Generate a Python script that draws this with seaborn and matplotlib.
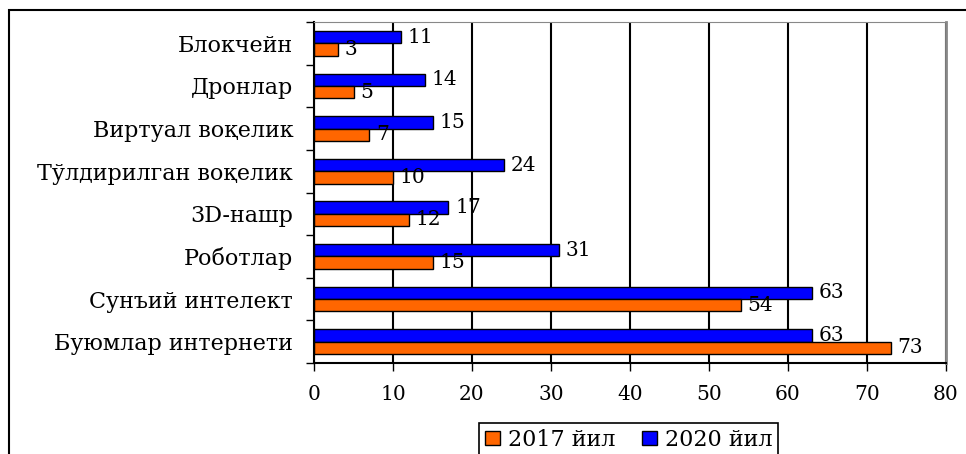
import matplotlib
matplotlib.use("Agg")
import matplotlib.pyplot as plt
import seaborn as sns
import pandas as pd
from matplotlib.patches import Rectangle, Patch
from matplotlib.ticker import FixedLocator

categories = ["Блокчейн", "Дронлар", "Виртуал воқелик", "Тўлдирилган воқелик",
              "3D-нашр", "Роботлар", "Сунъий интелект", "Буюмлар интернети"]
values_2017 = [3, 5, 7, 10, 12, 15, 54, 73]
values_2020 = [11, 14, 15, 24, 17, 31, 63, 63]
series = ["2017 йил", "2020 йил"]
colors = {"2017 йил": "#FF6600", "2020 йил": "#0000FF"}
x_ticks = [0, 10, 20, 30, 40, 50, 60, 70, 80]

sns.set_style("white")
plt.rcParams['font.family'] = ['DejaVu Serif', 'Liberation Serif']
plt.rcParams['text.color'] = 'black'
plt.rcParams['xtick.color'] = 'black'
plt.rcParams['ytick.color'] = 'black'
plt.rcParams['axes.labelcolor'] = 'black'
FS = 14.5
FS_CAT = 16
FS_LEG = 16

df = pd.DataFrame({
    "cat": categories * 2,
    "val": values_2020 + values_2017,
    "series": [series[1]] * len(categories) + [series[0]] * len(categories),
})

fig = plt.figure(figsize=(9.66, 4.54), dpi=100)
ax = fig.add_axes([314/966, 1-363/454, (946-314)/966, (363-22)/454])

sns.barplot(data=df, y="cat", x="val", hue="series", order=categories,
            hue_order=[series[1], series[0]], palette=colors, orient="h",
            width=0.58, edgecolor="black", linewidth=1, ax=ax, legend=False,
            saturation=1)

for cont in ax.containers:
    ax.bar_label(cont, padding=5, fontsize=FS, color="black")

ax.set_xlim(0, 80)
ax.set_ylim(len(categories) - 0.5, -0.5)
ax.set_xticks(x_ticks)
ax.set_xticklabels([str(t) for t in x_ticks], fontsize=FS)
ax.set_xlabel("")
ax.set_ylabel("")
ax.tick_params(axis="x", direction="out", length=6, width=1, color="black", labelcolor="black", pad=10, bottom=True)
ax.tick_params(axis="y", which="major", length=0, pad=15, labelsize=FS_CAT, labelcolor="black", left=False)
ax.yaxis.set_minor_locator(FixedLocator([i - 0.5 for i in range(len(categories) + 1)]))
ax.tick_params(axis="y", which="minor", direction="out", length=6, width=1, color="black", left=True)

ax.grid(axis="x", color="black", linewidth=1.5)
ax.grid(axis="y", visible=False)
ax.set_axisbelow(True)
ax.spines["left"].set_color("black")
ax.spines["bottom"].set_color("black")
ax.spines["left"].set_linewidth(1.5)
ax.spines["bottom"].set_linewidth(1.5)
ax.spines["top"].set_color("#888888")
ax.spines["right"].set_color("#888888")
ax.spines["right"].set_linewidth(2)

handles = [Patch(facecolor=colors[s], edgecolor="black", linewidth=1, label=s) for s in series]
leg = fig.legend(handles=handles, loc="upper center", bbox_to_anchor=(628.5/966, 1-423/454),
                 ncol=2, frameon=True, fontsize=FS_LEG, handlelength=0.68, handleheight=0.6,
                 handletextpad=0.35, columnspacing=1.2, borderpad=0.28, borderaxespad=0,
                 fancybox=False)
leg.get_frame().set_edgecolor("black")
leg.get_frame().set_linewidth(1.2)
leg.get_frame().set_alpha(1)

fig.patches.append(Rectangle((9/966, -0.05), 1.0, 1 - 10/454 + 0.05, transform=fig.transFigure,
                             fill=False, edgecolor="black", linewidth=1.5))

fig.savefig("out.png", dpi=100)
